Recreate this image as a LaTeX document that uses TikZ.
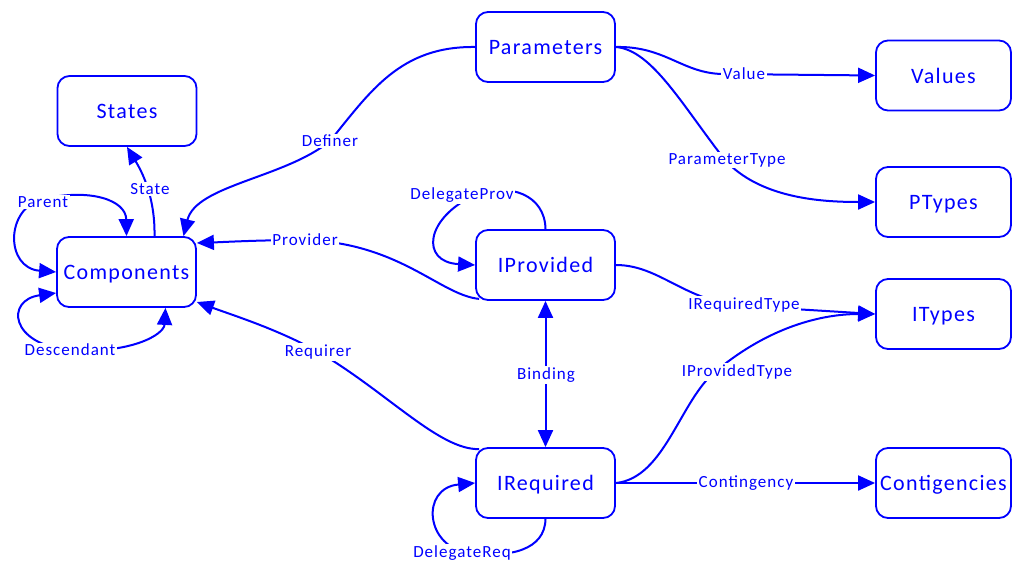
\documentclass[tikz,border=0pt]{standalone}
\usepackage{fontspec}
\setmainfont{Carlito}
\newfontfamily\boxfont[LetterSpace=6]{Carlito}
\newfontfamily\tagfont[LetterSpace=6]{Carlito}
\usetikzlibrary{arrows.meta}
\definecolor{ink}{RGB}{0,0,255}
\tikzset{
  entity/.style={draw=ink, line width=1.8pt, rounded corners=12pt,
    minimum width=139pt, minimum height=70pt, inner sep=0pt, text=ink,
    text height=18pt, text depth=3pt,
    font=\boxfont\fontsize{22}{26}\selectfont},
  narrow/.style={minimum width=135pt},
  tag/.style={fill=white, text=ink, inner sep=1.5pt,
    font=\tagfont\fontsize{17}{20}\selectfont},
  rel/.style={draw=ink, line width=2pt, -{Triangle[length=17pt,width=15pt]}},
  birel/.style={draw=ink, line width=2pt, {Triangle[length=17pt,width=15pt]}-{Triangle[length=17pt,width=15pt]}},
  plain/.style={draw=ink, line width=2pt}
}
\begin{document}
\begin{tikzpicture}[x=1pt,y=-1pt]
\useasboundingbox (0,0) rectangle (1012,565);

% entities
\node[entity] (States)     at (127,111)   {States};
\node[entity] (Components) at (126.5,272) {Components};
\node[entity] (Parameters) at (545.5,47)  {Parameters};
\node[entity] (IProvided)  at (545.5,265) {IProvided};
\node[entity] (IRequired)  at (545.5,483) {IRequired};
\node[entity,narrow] (Values)       at (943.5,75.5) {Values};
\node[entity,narrow] (PTypes)       at (943.5,202)  {PTypes};
\node[entity,narrow] (ITypes)       at (943.5,314)  {ITypes};
\node[entity,narrow] (Contigencies) at (943.5,483)  {Contigencies};

% label positions
\coordinate (tState)    at (150,189);
\coordinate (tParent)   at (43,202);
\coordinate (tDesc)     at (70,350);
\coordinate (tDefiner)  at (330,141);
\coordinate (tProvider) at (305,240);
\coordinate (tReq)      at (318,352);
\coordinate (tDProv)    at (462,195);
\coordinate (tDReq)     at (462,553);
\coordinate (tBinding)  at (546,375);
\coordinate (tValue)    at (744,74);
\coordinate (tPType)    at (727,160);
\coordinate (tIRT)      at (744,305);
\coordinate (tIPT)      at (737,372);
\coordinate (tCont)     at (746,483);

% Components relations
\draw[rel] ([xshift=28pt]Components.north) .. controls (155,212) and (150,185) .. (States.south);
\draw[birel] (Components.west) .. controls (5,268) and (5,208) .. (43,199)
   .. controls (90,188) and (126,200) .. (Components.north);
\draw[birel] ([yshift=-21pt]Components.west) .. controls (5,300) and (10,345) .. (70,350)
   .. controls (130,354) and (164,335) .. ([xshift=39pt]Components.south);
\draw[rel] (Parameters.west) .. controls (400,46) and (370,92) .. (330,141)
   .. controls (285,178) and (196,185) .. ([xshift=57pt]Components.north);
\draw[rel] ([shift={(4pt,2pt)}]IProvided.south west) .. controls (440,295) and (400,243) .. (305,240)
   .. controls (260,240) and (225,242) .. ([yshift=29pt]Components.east);
\draw[rel] ([shift={(4pt,-2pt)}]IRequired.north west) .. controls (440,450) and (390,395) .. (322,354)
   .. controls (280,330) and (235,316) .. ([yshift=-30pt]Components.east);

% delegation loops
\draw[rel] (IProvided.north) .. controls (545,195) and (510,182) .. (475,195)
   .. controls (425,218) and (420,262) .. (IProvided.west);
\draw[rel] (IRequired.south) .. controls (545,550) and (510,558) .. (470,553)
   .. controls (425,548) and (420,488) .. (IRequired.west);

% binding
\draw[birel] (IProvided.south) -- (IRequired.north);

% parameters
\draw[rel] (Parameters.east) .. controls (665,46) and (682,73) .. (722,74) -- (Values.west);
\draw[rel] (Parameters.east) .. controls (652,50) and (682,105) .. (725,160)
   .. controls (760,198) and (820,202) .. (PTypes.west);

% interface types
\draw[rel] (IProvided.east) .. controls (660,265) and (685,302) .. (744,306) -- (ITypes.west);
\draw[rel] (IRequired.east) .. controls (665,478) and (680,400) .. (716,371)
   .. controls (775,322) and (830,314) .. (ITypes.west);
\draw[rel] (IRequired.east) -- (Contigencies.west);

% labels
\node[tag] at (tState)    {State};
\node[tag] at (tParent)   {Parent};
\node[tag] at (tDesc)     {Descendant};
\node[tag] at (tDefiner)  {Definer};
\node[tag] at (tProvider) {Provider};
\node[tag] at (tReq)      {Requirer};
\node[tag] at (tDProv)    {DelegateProv};
\node[tag] at (tDReq)     {DelegateReq};
\node[tag] at (tBinding)  {Binding};
\node[tag] at (tValue)    {Value};
\node[tag] at (tPType)    {ParameterType};
\node[tag] at (tIRT)      {IRequiredType};
\node[tag] at (tIPT)      {IProvidedType};
\node[tag] at (tCont)     {Contingency};
\end{tikzpicture}
\end{document}
